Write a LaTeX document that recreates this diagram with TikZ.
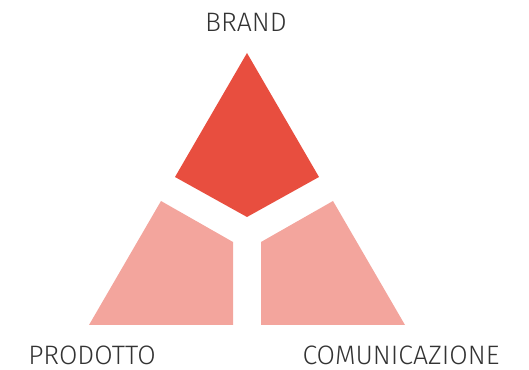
\documentclass[tikz,border=0pt]{standalone}
\usepackage{fontspec}
\setmainfont{Fira Sans Light}
\definecolor{brandred}{HTML}{E84E3F}
\definecolor{sidepink}{HTML}{F3A59D}
\tikzset{
    brandpiece/.style={fill=brandred},
    sidepiece/.style={fill=sidepink},
    areaname/.style={text=black!80, font=\fontsize{20}{24}\selectfont, inner sep=0pt}
}

\begin{document}
\begin{tikzpicture}[x=0.75pt, y=-0.75pt]
    \useasboundingbox (0,0) rectangle (529,370);
    \fill[brandpiece] (247,53) -- (319,177) -- (247,217) -- (175,177) -- cycle;
    \fill[sidepiece] (161,201) -- (233,242) -- (233,325) -- (89,325) -- cycle;
    \fill[sidepiece] (333,201) -- (261,242) -- (261,325) -- (405,325) -- cycle;
    \node[areaname] (brand) at (246,22.5) {BRAND};
    \node[areaname] (prodotto) at (92,355) {PRODOTTO};
    \node[areaname] (comunicazione) at (401,355) {COMUNICAZIONE};
\end{tikzpicture}
\end{document}
